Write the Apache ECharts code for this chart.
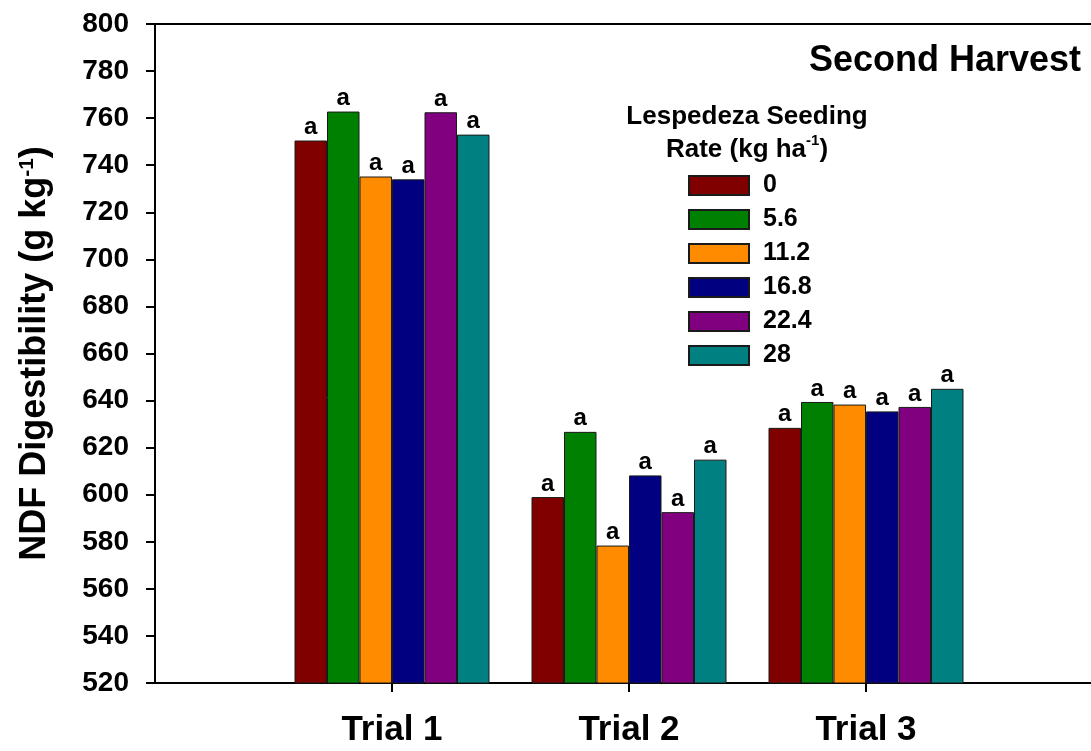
<!DOCTYPE html>
<html>
<head>
<meta charset="utf-8">
<title>NDF Digestibility – Second Harvest</title>
<script src="https://cdn.jsdelivr.net/npm/echarts@6/dist/echarts.min.js"></script>
<style>
  html, body { margin: 0; padding: 0; background: #ffffff; }
  #chart { width: 1091px; height: 751px; }
</style>
</head>
<body>
<div id="chart"></div>
<script>
// Trials on the category axis (blank slots pad both ends of the frame)
const categories = ['', 'Trial 1', 'Trial 2', 'Trial 3', ''];

// Lespedeza seeding rates (kg ha-1)
const rates = ['0', '5.6', '11.2', '16.8', '22.4', '28'];

// NDF digestibility (g kg-1) per rate, for Trial 1, Trial 2, Trial 3
const rate0    = [750.5, 599.0, 628.4];
const rate5_6  = [762.8, 626.7, 639.4];
const rate11_2 = [735.2, 578.4, 638.3];
const rate16_8 = [734.0, 608.2, 635.4];
const rate22_4 = [762.5, 592.6, 637.3];
const rate28   = [753.0, 614.9, 645.0];

// Mean separation letters above each bar
const letters = [
  ['a', 'a', 'a'],
  ['a', 'a', 'a'],
  ['a', 'a', 'a'],
  ['a', 'a', 'a'],
  ['a', 'a', 'a'],
  ['a', 'a', 'a']
];

// Y axis ticks
const yMin = 520;
const yMax = 800;
const yStep = 20;

const values = [rate0, rate5_6, rate11_2, rate16_8, rate22_4, rate28];
const colors = ['#800000', '#008000', '#ff8c00', '#000080', '#800080', '#008080'];

const FONT = '"Liberation Sans", Arial, Helvetica, sans-serif';

const series = rates.map((name, i) => ({
  name: name,
  type: 'bar',
  barWidth: 32.5,
  barGap: '0%',
  data: [null].concat(values[i]).concat([null]),
  itemStyle: { color: colors[i], borderColor: '#1a1a1a', borderWidth: 1 },
  label: {
    show: true,
    position: 'top',
    distance: 1,
    formatter: (p) => letters[i][p.dataIndex - 1],
    color: '#000',
    fontFamily: FONT,
    fontWeight: 'bold',
    fontSize: 24
  },
  emphasis: { disabled: true }
}));

const chart = echarts.init(document.getElementById('chart'), null, { renderer: 'canvas' });

chart.setOption({
  animation: false,
  backgroundColor: '#ffffff',
  textStyle: { fontFamily: FONT },
  title: [
    {
      text: 'Second Harvest',
      left: 809,
      top: 43,
      padding: 0,
      textStyle: { fontFamily: FONT, fontWeight: 'bold', fontSize: 36, color: '#000' }
    },
    {
      text: 'Lespedeza Seeding\nRate (kg ha{sup|-1})',
      left: 747,
      top: 100,
      padding: 0,
      textAlign: 'center',
      textStyle: {
        fontFamily: FONT, fontWeight: 'bold', fontSize: 26, lineHeight: 33, color: '#000', align: 'center',
        rich: {
          sup: { fontFamily: FONT, fontWeight: 'bold', fontSize: 15, verticalAlign: 'top', lineHeight: 15, color: '#000' }
        }
      }
    }
  ],
  legend: {
    data: rates,
    orient: 'vertical',
    left: 688,
    top: 173,
    padding: 0,
    itemWidth: 60,
    itemHeight: 19,
    itemGap: 9,
    icon: 'rect',
    selectedMode: false,
    textStyle: { fontFamily: FONT, fontWeight: 'bold', fontSize: 25, color: '#000', lineHeight: 20, padding: [0, 0, 0, 9] }
  },
  grid: { left: 155, top: 24, width: 948, bottom: 68, outerBoundsMode: 'none', containLabel: false },
  xAxis: [
    {
      type: 'category',
      data: categories,
      boundaryGap: false,
      axisLine: { show: true, lineStyle: { color: '#000', width: 2 } },
      axisTick: {
        show: true,
        length: 9,
        interval: (idx) => idx >= 1 && idx <= 3,
        lineStyle: { color: '#000', width: 2 }
      },
      axisLabel: {
        interval: 0,
        margin: 30,
        color: '#000',
        fontFamily: FONT,
        fontWeight: 'bold',
        fontSize: 35
      },
      splitLine: { show: false }
    },
    {
      type: 'category',
      position: 'top',
      data: categories,
      boundaryGap: false,
      axisLine: { show: true, lineStyle: { color: '#000', width: 2 } },
      axisTick: { show: false },
      axisLabel: { show: false },
      splitLine: { show: false }
    }
  ],
  yAxis: {
    type: 'value',
    min: yMin,
    max: yMax,
    interval: yStep,
    name: 'NDF Digestibility (g kg{sup|-1})',
    nameLocation: 'middle',
    nameRotate: 90,
    nameGap: 102,
    nameTextStyle: {
      fontFamily: FONT, fontWeight: 'bold', fontSize: 36, color: '#000',
      rich: {
        sup: { fontFamily: FONT, fontWeight: 'bold', fontSize: 21, verticalAlign: 'top', color: '#000' }
      }
    },
    axisLine: { show: true, lineStyle: { color: '#000', width: 2 } },
    axisTick: { show: true, inside: false, length: 9, lineStyle: { color: '#000', width: 2 } },
    axisLabel: {
      margin: 26,
      color: '#000',
      fontFamily: FONT,
      fontWeight: 'bold',
      fontSize: 28
    },
    splitLine: { show: false }
  },
  series: series
});
</script>
</body>
</html>
